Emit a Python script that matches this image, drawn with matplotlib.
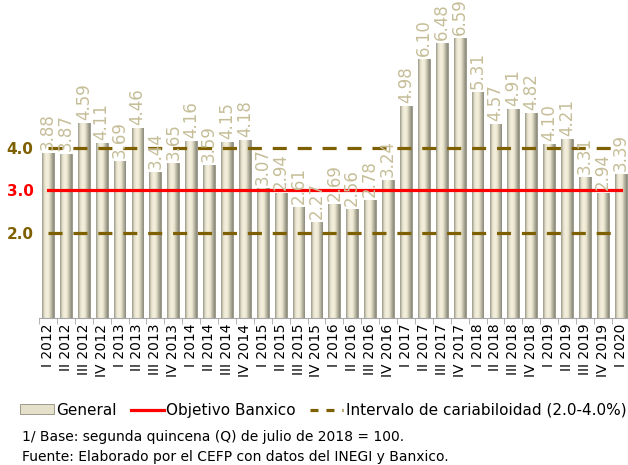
import numpy as np
import matplotlib
matplotlib.use("Agg")
import matplotlib.pyplot as plt
from matplotlib.colors import LinearSegmentedColormap
from matplotlib.patches import Patch
from matplotlib.lines import Line2D

# Datos (inflación anual, %)
trimestres = ["I", "II", "III", "IV"]
anios = ["2012", "2013", "2014", "2015", "2016", "2017", "2018", "2019", "2020"]
etiquetas = [f"{t} {a}" for a in anios for t in trimestres][:33]
general = [3.88, 3.87, 4.59, 4.11, 3.69, 4.46, 3.44, 3.65, 4.16, 3.59, 4.15,
           4.18, 3.07, 2.94, 2.61, 2.27, 2.69, 2.56, 2.78, 3.24, 4.98, 6.10,
           6.48, 6.59, 5.31, 4.57, 4.91, 4.82, 4.10, 4.21, 3.31, 2.94, 3.39]
objetivo = 3.0
intervalo = [2.0, 4.0]

fig = plt.figure(figsize=(6.28, 4.65), dpi=100)
ax = fig.add_axes([39 / 628, 0.316, 590.7 / 628, 0.684])

x = np.arange(len(general))
bars = ax.bar(x, general, width=0.66, color="#ECE8D4", edgecolor="#8E8B7C",
              linewidth=0.6, zorder=2)

# degradado horizontal para dar volumen a las barras
cmap = LinearSegmentedColormap.from_list(
    "barra", ["#9A988A", "#E4E0CA", "#F5F1DF", "#EAE6CF", "#B8B5A2", "#8A887A"])
grad = np.linspace(0, 1, 64).reshape(1, -1)
for b in bars:
    x0, w, h = b.get_x(), b.get_width(), b.get_height()
    im = ax.imshow(grad, extent=[x0, x0 + w, 0, h], aspect="auto", cmap=cmap,
                   zorder=2.1)
    im.set_clip_path(b)

# etiquetas de valor
for xi, v in zip(x, general):
    ax.text(xi, v + 0.07, f"{v:.2f}", rotation=90, ha="center", va="bottom",
            fontsize=12, color="#C6BE98", zorder=4)

# líneas de referencia
ax.plot([x[0], x[-1]], [objetivo, objetivo], color="#FF0000", lw=2.3, zorder=3)
for lim in intervalo:
    ax.plot([x[0], x[-1]], [lim, lim], color="#7F6000", lw=2.3,
            dashes=(4.4, 3.4), zorder=3)

ax.set_xlim(-0.5, len(general) - 0.5)
ax.set_ylim(0, 7.48)

ax.set_xticks(x)
ax.set_xticklabels(etiquetas, rotation=90, fontsize=10)
ax.set_xticks(np.arange(-0.5, len(general), 1), minor=True)
ax.tick_params(axis="x", which="major", length=0, pad=4)
ax.tick_params(axis="x", which="minor", length=4, color="#A6A6A6")

ax.set_yticks([2.0, 3.0, 4.0])
ax.set_yticklabels(["2.0", "3.0", "4.0"], fontsize=11, fontweight="bold")
for lab, c in zip(ax.get_yticklabels(), ["#7F6000", "#FF0000", "#7F6000"]):
    lab.set_color(c)
ax.tick_params(axis="y", length=0, pad=4)

for s in ["top", "right", "left"]:
    ax.spines[s].set_visible(False)
ax.spines["bottom"].set_color("#A6A6A6")

handles = [
    Patch(facecolor="#E4E0CA", edgecolor="#8E8B7C", linewidth=0.6),
    Line2D([], [], color="#FF0000", lw=2.3),
    Line2D([], [], color="#7F6000", lw=2.3, dashes=(2.5, 2.5)),
]
nombres = ["General", "Objetivo Banxico", "Intervalo de cariabiloidad (2.0-4.0%)"]
fig.legend(handles, nombres, loc="center", bbox_to_anchor=(0.515, 0.118),
           ncol=3, frameon=False, fontsize=11, handlelength=2.2,
           handletextpad=0.15, columnspacing=0.9, handleheight=0.6)

fig.text(0.035, 0.060, "1/ Base: segunda quincena (Q) de julio de 2018 = 100.",
         fontsize=10, va="center")
fig.text(0.035, 0.017, "Fuente: Elaborado por el CEFP con datos del INEGI y Banxico.",
         fontsize=10, va="center")

fig.savefig("out.png", dpi=100)
